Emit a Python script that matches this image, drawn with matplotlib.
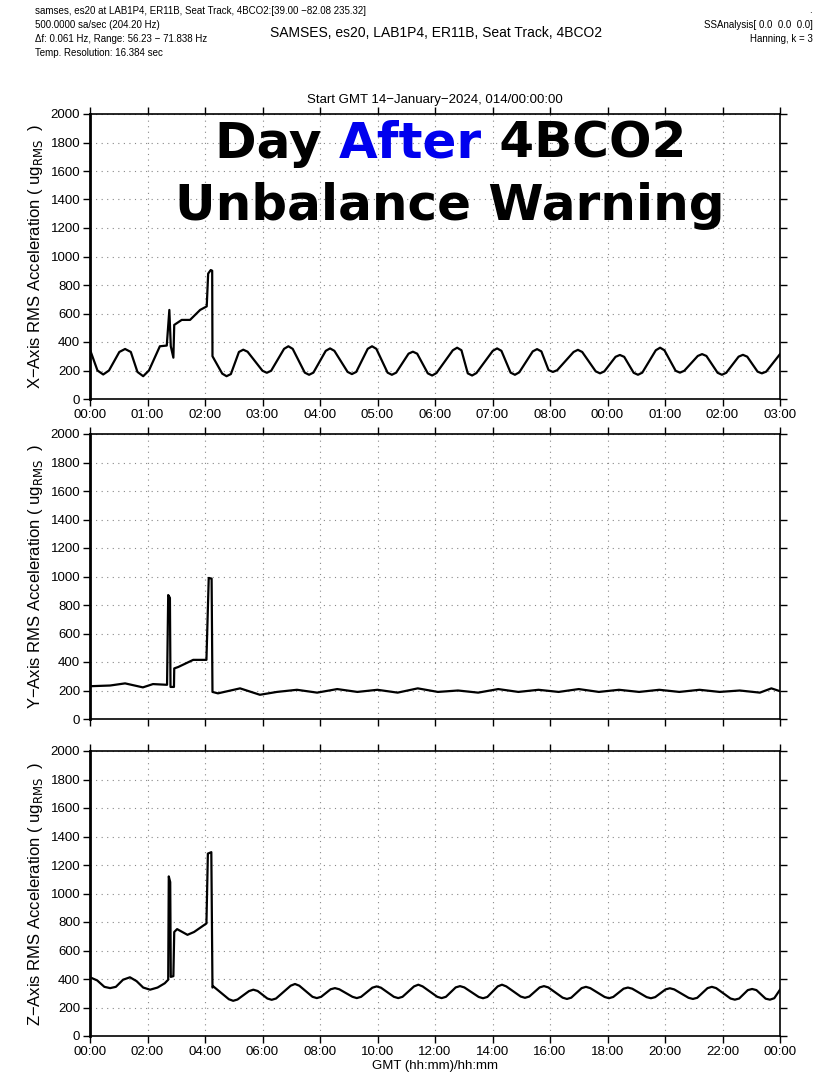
import numpy as np
import matplotlib
matplotlib.use("Agg")
import matplotlib.pyplot as plt

plt.rcParams['font.family'] = ['Liberation Sans', 'DejaVu Sans']

# ---- data (time in hours from 00:00) ----
x_time = [0.00, 0.26, 0.46, 0.66, 1.02, 1.22, 1.42, 1.65, 1.85, 2.05, 2.43, 2.67,
          2.76, 2.81, 2.90, 2.93, 3.19, 3.48, 3.83, 4.06, 4.11, 4.20, 4.25, 4.26,
          4.60, 4.75, 4.90, 5.18, 5.33, 5.48, 6.00, 6.15, 6.30, 6.75, 6.90, 7.05,
          7.47, 7.62, 7.77, 8.20, 8.35, 8.50, 8.96, 9.11, 9.26, 9.66, 9.81, 9.96,
          10.35, 10.50, 10.65, 11.08, 11.23, 11.38, 11.75, 11.90, 12.05, 12.62, 12.77, 12.92,
          13.14, 13.29, 13.44, 14.01, 14.16, 14.31, 14.63, 14.78, 14.93, 15.40, 15.55, 15.70,
          15.95, 16.10, 16.25, 16.82, 16.97, 17.12, 17.59, 17.74, 17.89, 18.28, 18.43, 18.58,
          18.91, 19.06, 19.21, 19.68, 19.83, 19.98, 20.37, 20.52, 20.67, 21.14, 21.29, 21.44,
          21.83, 21.98, 22.13, 22.56, 22.71, 22.86, 23.22, 23.37, 23.52, 24.00]
x_vals = [346, 200, 172, 200, 330, 351, 330, 190, 160, 200, 370, 375,
          625, 370, 290, 520, 555, 555, 625, 650, 880, 905, 900, 300,
          178, 160, 175, 330, 346, 332, 198, 184, 198, 352, 370, 352,
          185, 170, 185, 338, 355, 338, 190, 175, 190, 352, 370, 352,
          185, 170, 185, 318, 332, 318, 180, 165, 182, 342, 360, 342,
          180, 165, 182, 338, 355, 338, 185, 170, 187, 334, 350, 334,
          203, 190, 202, 330, 345, 330, 194, 180, 194, 296, 309, 296,
          184, 170, 185, 342, 360, 342, 198, 185, 198, 302, 315, 302,
          184, 170, 184, 297, 310, 297, 192, 180, 192, 315]

y_time = [0.00, 0.70, 1.22, 1.84, 2.19, 2.68, 2.72, 2.78, 2.80, 2.92, 2.93, 3.07,
          3.59, 4.05, 4.13, 4.23, 4.26, 4.45, 5.22, 5.91, 6.50, 7.2, 7.9, 8.6,
          9.3, 10.0, 10.7, 11.4, 12.1, 12.8, 13.5, 14.2, 14.9, 15.6, 16.3, 17.0,
          17.7, 18.4, 19.1, 19.8, 20.5, 21.2, 21.9, 22.6, 23.3, 23.7, 24.0]
y_vals = [230, 235, 250, 222, 245, 240, 870, 850, 225, 225, 355, 365,
          415, 415, 990, 985, 190, 180, 215, 170, 190, 205, 185, 210,
          190, 205, 185, 215, 190, 200, 185, 210, 190, 205, 190, 210,
          190, 205, 190, 205, 190, 205, 190, 200, 185, 215, 195]

z_time = [0.00, 0.25, 0.50, 0.70, 0.90, 1.15, 1.39, 1.62, 1.85, 2.09, 2.35, 2.60,
          2.72, 2.74, 2.79, 2.81, 2.90, 2.93, 3.03, 3.39, 3.62, 4.05, 4.10, 4.22,
          4.26, 4.29, 4.83, 4.98, 5.13, 5.53, 5.68, 5.83, 6.17, 6.32, 6.47, 6.98,
          7.13, 7.28, 7.74, 7.89, 8.04, 8.37, 8.52, 8.67, 9.13, 9.28, 9.43, 9.82,
          9.97, 10.12, 10.57, 10.72, 10.87, 11.27, 11.42, 11.57, 12.08, 12.23, 12.38, 12.72,
          12.87, 13.02, 13.52, 13.67, 13.82, 14.18, 14.33, 14.48, 14.98, 15.13, 15.28, 15.64,
          15.79, 15.94, 16.44, 16.59, 16.74, 17.10, 17.25, 17.40, 17.90, 18.05, 18.20, 18.56,
          18.71, 18.86, 19.36, 19.51, 19.66, 20.02, 20.17, 20.32, 20.82, 20.97, 21.12, 21.48,
          21.63, 21.78, 22.28, 22.43, 22.58, 22.88, 23.03, 23.18, 23.50, 23.65, 23.80, 24.00]
z_vals = [412, 390, 345, 336, 345, 395, 412, 385, 340, 325, 340, 370,
          395, 1120, 1080, 415, 420, 730, 750, 710, 730, 790, 1280, 1290,
          340, 348, 258, 247, 256, 315, 325, 316, 263, 254, 263, 353,
          365, 353, 275, 266, 275, 328, 336, 328, 275, 266, 275, 339,
          348, 339, 275, 266, 275, 348, 360, 348, 275, 266, 275, 341,
          350, 341, 274, 265, 274, 348, 360, 348, 277, 268, 277, 341,
          350, 341, 269, 260, 269, 336, 345, 336, 274, 265, 274, 332,
          340, 332, 273, 265, 273, 327, 335, 327, 268, 260, 268, 336,
          345, 336, 263, 255, 263, 322, 330, 322, 262, 255, 265, 325]

tick_hours = np.arange(0, 25, 2)
top_labels = ["00:00", "01:00", "02:00", "03:00", "04:00", "05:00", "06:00",
              "07:00", "08:00", "00:00", "01:00", "02:00", "03:00"]
bottom_labels = ["00:00", "02:00", "04:00", "06:00", "08:00", "10:00", "12:00",
                 "14:00", "16:00", "18:00", "20:00", "22:00", "00:00"]
y_ticks = np.arange(0, 2001, 200)

fig = plt.figure(figsize=(8.17, 10.81), dpi=100)

W, H = 817.0, 1081.0
left, right = 90 / W, 780 / W
panels = [(114, 399), (434, 719), (751, 1036)]
series = [(x_time, x_vals, "X"), (y_time, y_vals, "Y"), (z_time, z_vals, "Z")]
axes = []
for (top, bot), (t, v, name) in zip(panels, series):
    ax = fig.add_axes([left, 1 - bot / H, right - left, (bot - top) / H])
    ax.plot(t, v, color="black", lw=1.6, solid_joinstyle="round")
    ax.set_xlim(0, 24)
    ax.set_ylim(0, 2000)
    ax.set_xticks(tick_hours)
    ax.set_yticks(y_ticks)
    ax.grid(True, linestyle=(0, (1, 4)), color="#888888", lw=0.8)
    ax.tick_params(direction="out", length=5, width=1, top=True, right=True,
                   labelsize=9.5, pad=2)
    for s in ax.spines.values():
        s.set_linewidth(1.2)
    ax.spines["left"].set_linewidth(2)
    ax.set_ylabel(name + "\u2212Axis RMS Acceleration ( ug$_{\\mathrm{RMS}}$  )",
                  fontsize=12, labelpad=4)
    axes.append(ax)

axes[0].set_xticklabels(top_labels)
axes[1].set_xticklabels([])
axes[2].set_xticklabels(bottom_labels)
axes[2].set_xlabel("GMT (hh:mm)/hh:mm", fontsize=9.5, labelpad=2)
axes[0].set_title("Start GMT 14\u2212January\u22122024, 014/00:00:00", fontsize=9.5, pad=8)

# header texts
hdr = ["samses, es20 at LAB1P4, ER11B, Seat Track, 4BCO2:[39.00 \u221282.08 235.32]",
       "500.0000 sa/sec (204.20 Hz)",
       "\u0394f: 0.061 Hz, Range: 56.23 \u2212 71.838 Hz",
       "Temp. Resolution: 16.384 sec"]
for i, s in enumerate(hdr):
    fig.text(35 / W, 1 - (11.5 + 13.9 * i) / H, s, fontsize=7, va="center", ha="left")
fig.text(436 / W, 1 - 33 / H, "SAMSES, es20, LAB1P4, ER11B, Seat Track, 4BCO2",
         fontsize=10, ha="center", va="center")
fig.text(812 / W, 1 - 10 / H, ".", fontsize=7, ha="right", va="center")
fig.text(813 / W, 1 - 25 / H, "SSAnalysis[ 0.0  0.0  0.0]", fontsize=7, ha="right", va="center")
fig.text(813 / W, 1 - 39 / H, "Hanning, k = 3", fontsize=7, ha="right", va="center")

# big overlay title with a blue word
big = dict(fontsize=36, fontweight="bold", family="DejaVu Sans", va="baseline")
renderer = fig.canvas.get_renderer()
parts = [("Day ", "black"), ("After", "#0000ee"), (" 4BCO2", "black")]
widths = []
for s, c in parts:
    tt = fig.text(0, 0, s, **big)
    widths.append(tt.get_window_extent(renderer).width)
    tt.remove()
total = sum(widths)
cx = 451
xpos = cx - total / 2
for (s, c), w in zip(parts, widths):
    fig.text(xpos / W, 1 - 158 / H, s, color=c, **big)
    xpos += w
fig.text(450 / W, 1 - 220 / H, "Unbalance Warning", ha="center", color="black", **big)

fig.savefig("out.png", dpi=100)
